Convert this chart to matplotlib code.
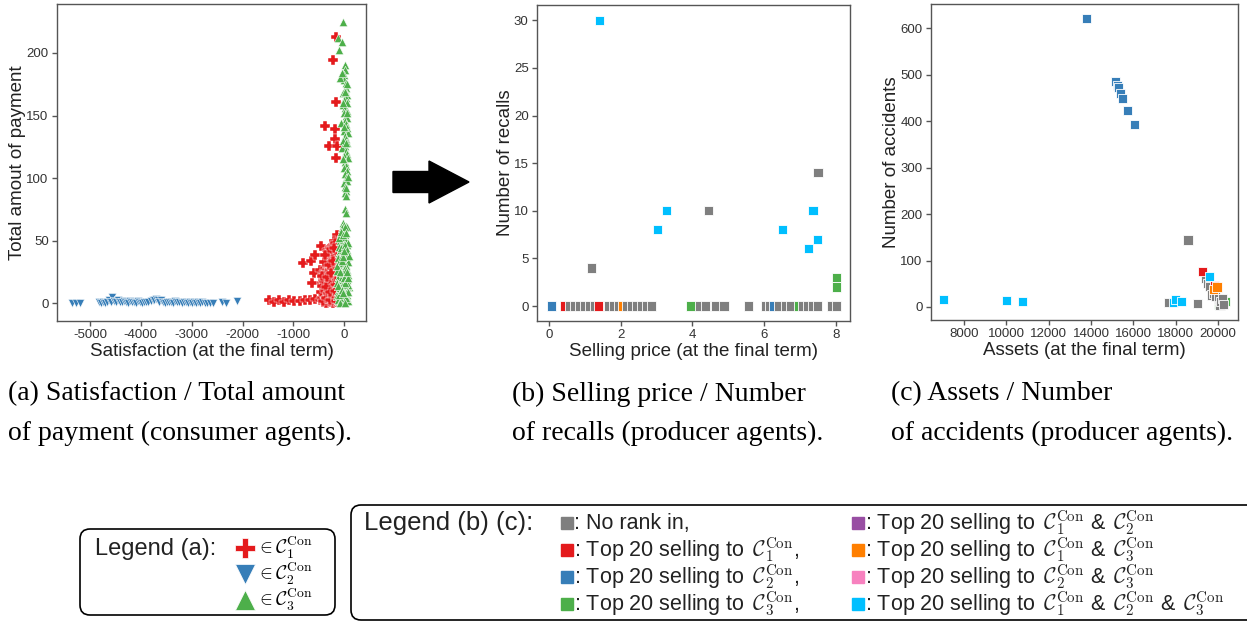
import matplotlib.pyplot as plt
from matplotlib.patches import FancyBboxPatch, FancyArrow

plt.rcParams['font.family'] = 'Liberation Sans'
plt.rcParams['mathtext.fontset'] = 'cm'
plt.rcParams['axes.unicode_minus'] = False

# ---- (a) consumer agents: satisfaction vs total payment ----
blue_sat = [-5360, -5280, -5190, -4830, -4780, -4740, -4700, -4660, -4620, -4580,
            -4560, -4530, -4490, -4450, -4410, -4370, -4330, -4290, -4250, -4210,
            -4170, -4130, -4090, -4050, -4010, -3970, -3930, -3890, -3850, -3810,
            -3770, -3740, -3700, -3670, -3640, -3600, -3560, -3520, -3480, -3440,
            -3400, -3360, -3320, -3280, -3240, -3200, -3160, -3120, -3080, -3040,
            -3000, -2960, -2920, -2880, -2840, -2790, -2740, -2690, -2640, -2590,
            -2410, -2330, -2100]
blue_pay = [0.5, 0.5, 0.5, 0.8, 0.5, 1.0, 0.6, 1.2, 2.5, 0.8,
            5.5, 2.0, 1.0, 3.0, 1.5, 0.8, 2.2, 1.0, 0.6, 1.8,
            0.9, 1.4, 0.7, 2.0, 1.1, 0.6, 1.3, 0.8, 1.0, 1.6,
            3.0, 2.4, 3.2, 2.6, 1.2, 2.8, 1.0, 0.7, 1.5, 0.9,
            1.2, 0.6, 1.8, 0.8, 1.1, 0.5, 1.4, 0.9, 0.6, 1.0,
            0.7, 1.3, 0.5, 0.9, 0.6, 0.8, 0.5, 0.7, 0.6, 0.5,
            1.5, 0.6, 2.0]

red_sat = [-1480, -1380, -1280, -1180, -1080, -980, -870, -770, -670, -570,
           -480, -380, -280,
           -813, -656, -571, -453, -328, -144, -584, -472, -636, -200,
           -440, -420, -400, -380, -360, -340, -320, -300, -280, -260,
           -240, -220, -200, -180, -160, -430, -410, -390, -370, -350,
           -330, -310, -290, -270, -250, -230, -210, -190, -170, -155,
           -395, -375, -355, -335, -315, -295, -275, -255, -235, -215,
           -195, -175, -160, -345, -325, -305, -285, -265, -245, -225,
           -205, -185, -165, -270, -240, -210, -180, -420, -380, -330,
           -290, -250, -210, -170, -460, -350, -230, -190, -400, -300,
           -445, -425, -405, -385, -365, -345, -325, -305, -285, -265,
           -245, -225, -205, -185, -165, -150, -430, -390, -350, -310,
           -270, -230, -190, -160, -370, -330, -290, -250, -210, -175,
           -157, -222, -164, -374, -171, -183, -295, -131, -157]
red_pay = [2.5, 1.5, 2.5, 1.5, 2.5, 2, 2, 2.5, 3, 3.5,
           3, 3.5, 2.5,
           32, 34, 39, 46, 43, 55, 24, 27, 16, 50,
           4, 8, 12, 6, 10, 3, 14, 7, 11, 5,
           9, 13, 4, 8, 12, 16, 19, 15, 18, 21,
           17, 20, 23, 16, 19, 22, 17, 20, 24, 18,
           25, 28, 24, 27, 30, 26, 29, 32, 27, 30,
           33, 28, 31, 34, 37, 35, 38, 36, 40, 37,
           41, 38, 42, 44, 46, 45, 48, 1, 1, 0.5,
           1.5, 1, 0.5, 1.5, 9, 0.5, 2, 6, 20, 2,
           14, 2, 18, 10, 4, 24, 8, 16, 3, 30,
           12, 6, 26, 15, 5, 35, 22, 33, 13, 41,
           9, 28, 44, 2, 39, 21, 31, 24, 34, 10,
           212.7, 194, 161, 142, 139, 131.5, 125.4, 126, 116.4]

green_sat = [-20, -124, -33, -92,
             10, 20, 0, -10, 30, -80, 40, 10, -20, 50,
             30, 0, 60, -30, 20, 50, 40, -10, 60, 10,
             30, -60, 50, 0, 70, 20, 40, -20, 60, 10,
             -40, 30, 50, 0, 70, 20, 40, -10, 60, 10,
             30, 50, 0, 20, 40, 10, 30,
             -40, 60, 20, -20, 50, 0, 40, -30, 70, 30,
             20, 40, -20, -10, 30, 60,
             -40, -10, 10, -60, 20, -90, -60, -30, 0, 30,
             50, -100, -20, -110, -80, -50, -20, 10, 40, 60,
             -130, -60, 20, -120, -90, -60, -30, 0, 30, 60,
             80, -140, -40, 20, -130, -100, -70, -40, -10, 20,
             50, 80, -150, -20, 40, -120, -90, -60, -30, 0,
             30, 60, 90, -140, -10, 50, -100, -70, -40, -10,
             20, 50, 80, -130, 0, 40, -80, 10, -50, 70,
             -110, -70, -30, 10, 50, 90, -150, -50, 30, 70,
             -90, -10, 60, -120, 0, 40, -60, 20, 80, -100,
             -40, 30, 70, -80, -20, 10, 50, -30, 40, 0]
green_pay = [225, 212, 209, 202,
             190, 186, 182, 178, 176, 180, 172, 170, 168, 166,
             164, 162, 160, 158, 156, 154, 150, 152, 148, 146,
             143, 144, 140, 138, 136, 134, 131, 130, 128, 126,
             124, 122, 119, 118, 116, 113, 110, 108, 106, 103,
             100, 98, 96, 93, 90, 88, 86,
             184, 175, 169, 160, 152, 141, 128, 115, 101, 92,
             75, 72, 64, 63, 62, 61,
             60, 58, 61, 56, 55, 50, 52, 49, 53, 50,
             47, 45, 46, 40, 42, 38, 43, 39, 41, 37,
             36, 44, 35, 30, 33, 28, 32, 29, 31, 27,
             33, 26, 25, 25, 20, 22, 18, 21, 17, 22,
             19, 23, 16, 24, 15, 10, 12, 8, 13, 9,
             11, 7, 13, 6, 5, 14, 2, 4, 1, 3,
             1, 4, 2, 3, 26, 30, 35, 45, 14, 48,
             52, 57, 55, 47, 43, 38, 30, 34, 27, 15,
             25, 20, 10, 14, 6, 8, 3, 16, 9, 7,
             11, 4, 20, 0.5, 8, 0.5, 25, 37, 56, 42]

# ---- (b) producer agents: selling price vs recalls ----
price = [0.08, 0.45, 0.57, 0.71, 0.85, 0.99, 1.13, 1.19, 1.27, 1.38,
         1.42, 1.66, 1.80, 1.94, 2.05, 2.17, 2.31, 2.45, 2.59, 2.73,
         2.87, 3.03, 3.28, 3.96, 4.20, 4.36, 4.44, 4.64, 4.88, 5.57,
         6.04, 6.16, 6.27, 6.39, 6.51, 6.60, 6.74, 6.95, 7.07, 7.21,
         7.24, 7.35, 7.36, 7.48, 7.49, 7.50, 7.88, 8.02, 8.02, 8.02]
recalls = [0, 0, 0, 0, 0, 0, 0, 4, 0, 0,
           30, 0, 0, 0, 0, 0, 0, 0, 0, 0,
           0, 8, 10, 0, 0, 0, 10, 0, 0, 0,
           0, 0, 0, 0, 8, 0, 0, 0, 0, 0,
           6, 0, 10, 7, 0, 14, 0, 0, 2, 3]
rank_b = ['C2', 'C1', 'none', 'none', 'none', 'none', 'none', 'none', 'none', 'C1',
          'C123', 'none', 'none', 'none', 'C13', 'none', 'none', 'none', 'none', 'none',
          'none', 'C123', 'C123', 'C3', 'none', 'none', 'none', 'none', 'none', 'none',
          'none', 'none', 'C2', 'none', 'C123', 'none', 'none', 'C3', 'none', 'none',
          'C123', 'none', 'C123', 'C123', 'none', 'none', 'none', 'none', 'C3', 'C3']

# ---- (c) producer agents: assets vs accidents ----
assets = [20040, 20330,
          17680, 18580, 19050, 19420, 19530, 19610, 19690, 19770, 19820, 19880,
          20010, 20090, 20140, 20200, 20250,
          19250, 19850, 19795, 19950,
          7050, 10000, 10760, 17880, 17980, 18260, 19580,
          13780, 15139, 15250, 15290, 15400, 15490, 15730, 16050]
accidents = [6, 12,
             10, 144, 7, 62, 51, 44, 26, 30, 37, 23,
             17, 3, 12, 19, 5,
             76, 45, 37, 43,
             16, 14, 12, 10, 16, 11, 66,
             621, 485, 477, 472, 459, 449, 423, 392]
rank_c = ['C3', 'C3',
          'none', 'none', 'none', 'none', 'none', 'none', 'none', 'none', 'none', 'none',
          'none', 'none', 'none', 'none', 'none',
          'C1', 'C1', 'C13', 'C13',
          'C123', 'C123', 'C123', 'C123', 'C123', 'C123', 'C123',
          'C2', 'C2', 'C2', 'C2', 'C2', 'C2', 'C2', 'C2']

rank_colors = {'none': '#7f7f7f', 'C1': '#e41a1c', 'C2': '#377eb8', 'C3': '#4daf4a',
               'C12': '#984ea3', 'C13': '#ff7f00', 'C23': '#f781bf', 'C123': '#00bfff'}

W, H = 1247, 622
fig = plt.figure(figsize=(W / 100, H / 100), dpi=100)

# pixel-space canvas for arrow, captions and legend boxes
canvas = fig.add_axes([0, 0, 1, 1])
canvas.set_xlim(0, W)
canvas.set_ylim(H, 0)
canvas.axis('off')


def box(left, top, right, bottom):
    return [left / W, 1 - bottom / H, (right - left) / W, (bottom - top) / H]


def style(ax):
    for sp in ax.spines.values():
        sp.set_color('#555555')
        sp.set_linewidth(1.0)
    ax.tick_params(colors='#555555', labelcolor='#333333', labelsize=9.5,
                   length=3.5, width=1, pad=2.5)


ax_a = fig.add_axes(box(57, 4, 366, 321))
ax_b = fig.add_axes(box(537, 5, 850, 321))
ax_c = fig.add_axes(box(931, 4, 1238, 320))

ax_a.scatter(red_sat, red_pay, marker='P', s=58, color='#e41a1c', edgecolor='white', linewidth=0.3)
ax_a.scatter(blue_sat, blue_pay, marker='v', s=34, color='#377eb8', edgecolor='white', linewidth=0.4)
ax_a.scatter(green_sat, green_pay, marker='^', s=36, color='#4daf4a', edgecolor='white', linewidth=0.4)
ax_a.set_xlim(-5650, 430)
ax_a.set_ylim(-14, 239)
ax_a.set_xticks([-5000, -4000, -3000, -2000, -1000, 0])
ax_a.set_yticks([0, 50, 100, 150, 200])
ax_a.set_xlabel('Satisfaction (at the final term)', fontsize=13.5, color='#222222', labelpad=1)
ax_a.set_ylabel('Total amout of payment', fontsize=13.5, color='#222222', labelpad=0)

ax_b.scatter(price, recalls, marker='s', s=44, c=[rank_colors[r] for r in rank_b],
             edgecolor='white', linewidth=0.6)
ax_b.set_xlim(-0.33, 8.39)
ax_b.set_ylim(-1.57, 31.6)
ax_b.set_xticks([0, 2, 4, 6, 8])
ax_b.set_yticks([0, 5, 10, 15, 20, 25, 30])
ax_b.set_xlabel('Selling price (at the final term)', fontsize=13.5, color='#222222', labelpad=1)
ax_b.set_ylabel('Number of recalls', fontsize=13.5, color='#222222', labelpad=0)

ax_c.scatter(assets, accidents, marker='s', s=44, c=[rank_colors[r] for r in rank_c],
             edgecolor='white', linewidth=0.6)
ax_c.set_xlim(6441, 20945)
ax_c.set_ylim(-28, 652)
ax_c.set_xticks([8000, 10000, 12000, 14000, 16000, 18000, 20000])
ax_c.set_yticks([0, 100, 200, 300, 400, 500, 600])
ax_c.set_xlabel('Assets (at the final term)', fontsize=13.5, color='#222222', labelpad=1)
ax_c.set_ylabel('Number of accidents', fontsize=13.5, color='#222222', labelpad=0)

for ax in (ax_a, ax_b, ax_c):
    style(ax)

# big arrow between (a) and (b)
canvas.add_patch(FancyArrow(393, 182, 76, 0, width=21, head_width=42, head_length=40,
                            length_includes_head=True, color='black'))

# captions
captions = [(8, '(a) Satisfaction / Total amount', 'of payment (consumer agents).'),
            (512, '(b) Selling price / Number', 'of recalls (producer agents).'),
            (891, '(c) Assets / Number', 'of accidents (producer agents).')]
for x, line1, line2 in captions:
    canvas.text(x, 394, line1, family='Liberation Serif', fontsize=20, va='center')
    canvas.text(x, 433, line2, family='Liberation Serif', fontsize=20, va='center')

# legend (a)
canvas.add_patch(FancyBboxPatch((80, 529), 255, 86, boxstyle='round,pad=0,rounding_size=10',
                                facecolor='white', edgecolor='black', linewidth=1.2))
canvas.text(95, 549, 'Legend (a):', fontsize=17, va='center', color='#222222')
leg_a = [('P', '#e41a1c', 1), ('v', '#377eb8', 2), ('^', '#4daf4a', 3)]
for i, (m, col, k) in enumerate(leg_a):
    y = 548 + i * 26
    canvas.plot(245, y, marker=m, ms=14, color=col, mec='white', mew=0.5)
    canvas.text(256, y, r'$\in\mathcal{C}_%d^{\mathrm{Con}}$' % k, fontsize=14, va='center')

# legend (b) (c)
canvas.add_patch(FancyBboxPatch((351, 505), 930, 115, boxstyle='round,pad=0,rounding_size=10',
                                facecolor='white', edgecolor='black', linewidth=1.2))
canvas.text(364, 523, 'Legend (b) (c):', fontsize=18.5, va='center', color='#222222')
C = r'$\,\mathcal{C}_%d^{\mathrm{Con}}$'
leg_bc = [('none', ': No rank in,'),
          ('C1', ': Top 20 selling to ' + C % 1 + ','),
          ('C2', ': Top 20 selling to ' + C % 2 + ','),
          ('C3', ': Top 20 selling to ' + C % 3 + ','),
          ('C12', ': Top 20 selling to ' + C % 1 + ' & ' + C % 2),
          ('C13', ': Top 20 selling to ' + C % 1 + ' & ' + C % 3),
          ('C23', ': Top 20 selling to ' + C % 2 + ' & ' + C % 3),
          ('C123', ': Top 20 selling to ' + C % 1 + ' & ' + C % 2 + ' & ' + C % 3)]
for i, (key, label) in enumerate(leg_bc):
    x = 567 if i < 4 else 858
    y = 523 + (i % 4) * 27
    canvas.plot(x, y, marker='s', ms=9, color=rank_colors[key])
    canvas.text(x + 7, y, label, fontsize=15.5, va='center', color='#222222')

fig.savefig('out.png', dpi=100)
